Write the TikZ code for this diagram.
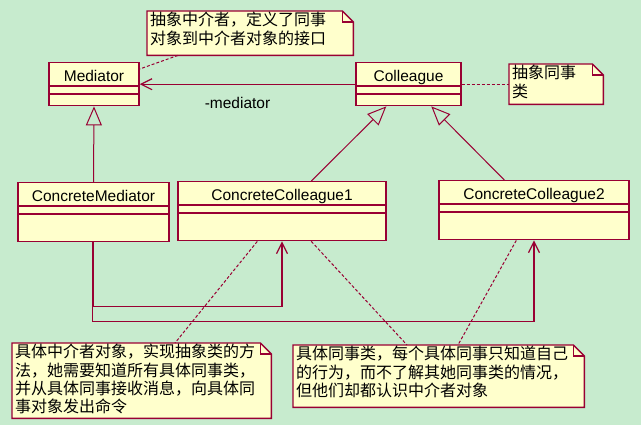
\documentclass[tikz,border=0pt]{standalone}
\usepackage{fontspec}
\setmainfont{Liberation Sans}
\newfontfamily\cjk{Noto Sans CJK SC}
\usetikzlibrary{arrows.meta}

\definecolor{fondo}{RGB}{199,235,206}
\definecolor{amarillo}{RGB}{255,255,204}
\definecolor{granate}{RGB}{153,0,51}

\tikzset{
  borde/.style={draw=granate, line width=1.4pt},
  clase/.style={borde, fill=amarillo, inner sep=0pt},
  nombre/.style={font=\fontsize{15.5pt}{18pt}\selectfont, inner sep=0pt},
  nota/.style={inner sep=0pt},
  notatexto/.style={font=\cjk\fontsize{16pt}{18.3pt}\selectfont, align=left, inner sep=0pt},
  enlace/.style={draw=granate, line width=1pt, dash pattern=on 3pt off 2pt},
  hereda/.style={draw=granate, line width=1pt, -{Triangle[open, length=19pt, width=16pt]}},
  asocia/.style={draw=granate, line width=1.2pt, -{Straight Barb[length=11pt, width=11pt]}},
}

% Caja de clase: nombre, x centro, y arriba, ancho, alto, texto
\newcommand\umlclase[6]{%
  \node[clase, minimum width=#4pt, minimum height=#5pt, anchor=north] (#1) at (#2,#3) {};
  \node[nombre, anchor=base] (#1-n) at ([yshift=-19.5pt]#1.north) {#6};
  \draw[borde] ([yshift=-24pt]#1.north west) -- ([yshift=-24pt]#1.north east)
               ([yshift=-32pt]#1.north west) -- ([yshift=-32pt]#1.north east);
}

% Nota con esquina doblada: nombre, x, y, ancho, alto, texto
\newcommand\umlnota[6]{%
  \node[nota, minimum width=#4pt, minimum height=#5pt, anchor=north west] (#1) at (#2,#3) {};
  \draw[borde, fill=amarillo] (#1.north west) -- ([xshift=-11pt]#1.north east)
    -- ([yshift=-11pt]#1.north east) -- (#1.south east) -- (#1.south west) -- cycle;
  \draw[borde] ([xshift=-11pt]#1.north east) |- ([yshift=-11pt]#1.north east);
  \node[notatexto, anchor=north west] (#1-t) at ([shift={(3pt,-1pt)}]#1.north west) {#6};
}

\begin{document}
\begin{tikzpicture}[x=1pt, y=-1pt]
    % Fondo y marco del dibujo.
    \fill[fondo] (0,0) rectangle (641,425);
    \useasboundingbox (0,0) rectangle (641,425);

    % Clases abstractas y concretas.
    \umlclase{med}{94}{62}{90}{43}{Mediator}
    \umlclase{col}{408.5}{62}{105}{43}{Colleague}
    \umlclase{cmed}{93.5}{182}{151}{59}{ConcreteMediator}
    \umlclase{cc1}{282}{181}{208}{59}{ConcreteColleague1}
    \umlclase{cc2}{534}{180}{190}{59}{ConcreteColleague2}

    % Notas explicativas.
    \umlnota{n1}{147}{11}{206}{44}{抽象中介者，定义了同事\\对象到中介者对象的接口}
    \umlnota{n2}{509}{64}{94}{40}{抽象同事\\类}
    \umlnota{n3}{12}{343}{259}{75}{具体中介者对象，实现抽象类的方\\法，她需要知道所有具体同事类，\\并从具体同事接收消息，向具体同\\事对象发出命令}
    \umlnota{n4}{293}{345}{291}{62}{具体同事类，每个具体同事只知道自己\\的行为，而不了解其她同事类的情况，\\但他们却都认识中介者对象}

    % Enlaces punteados entre notas y clases.
    \draw[enlace] ([xshift=31pt]n1.south west) -- ([yshift=-7pt]med.north east);
    \draw[enlace] (col.east) -- (col.east -| n2.west);
    \draw[enlace] ([xshift=80pt]cc1.south west) -- ([xshift=163pt]n3.north west);
    \draw[enlace] ([xshift=134pt]cc1.south west) -- ([xshift=114pt]n4.north west);
    \draw[enlace] ([xshift=78pt]cc2.south west) -- ([xshift=165pt]n4.north west);

    % Herencia hacia las clases abstractas.
    \draw[hereda] (cmed.north) -- (med.south);
    \draw[hereda] ([xshift=134pt]cc1.north west) -- ([xshift=31pt]col.south west);
    \draw[hereda] ([xshift=66pt]cc2.north west) -- ([xshift=76pt]col.south west);

    % Asociaciones.
    \draw[asocia] (col.west) -- (med.east);
    \node[nombre, anchor=base] (rol) at (237.5,109) {-mediator};
    \draw[asocia] (cmed.south) -- ++(0,64) -| (cc1.south);
    \draw[asocia] ([xshift=-1pt]cmed.south) -- ++(0,79) -| (cc2.south);
\end{tikzpicture}
\end{document}
